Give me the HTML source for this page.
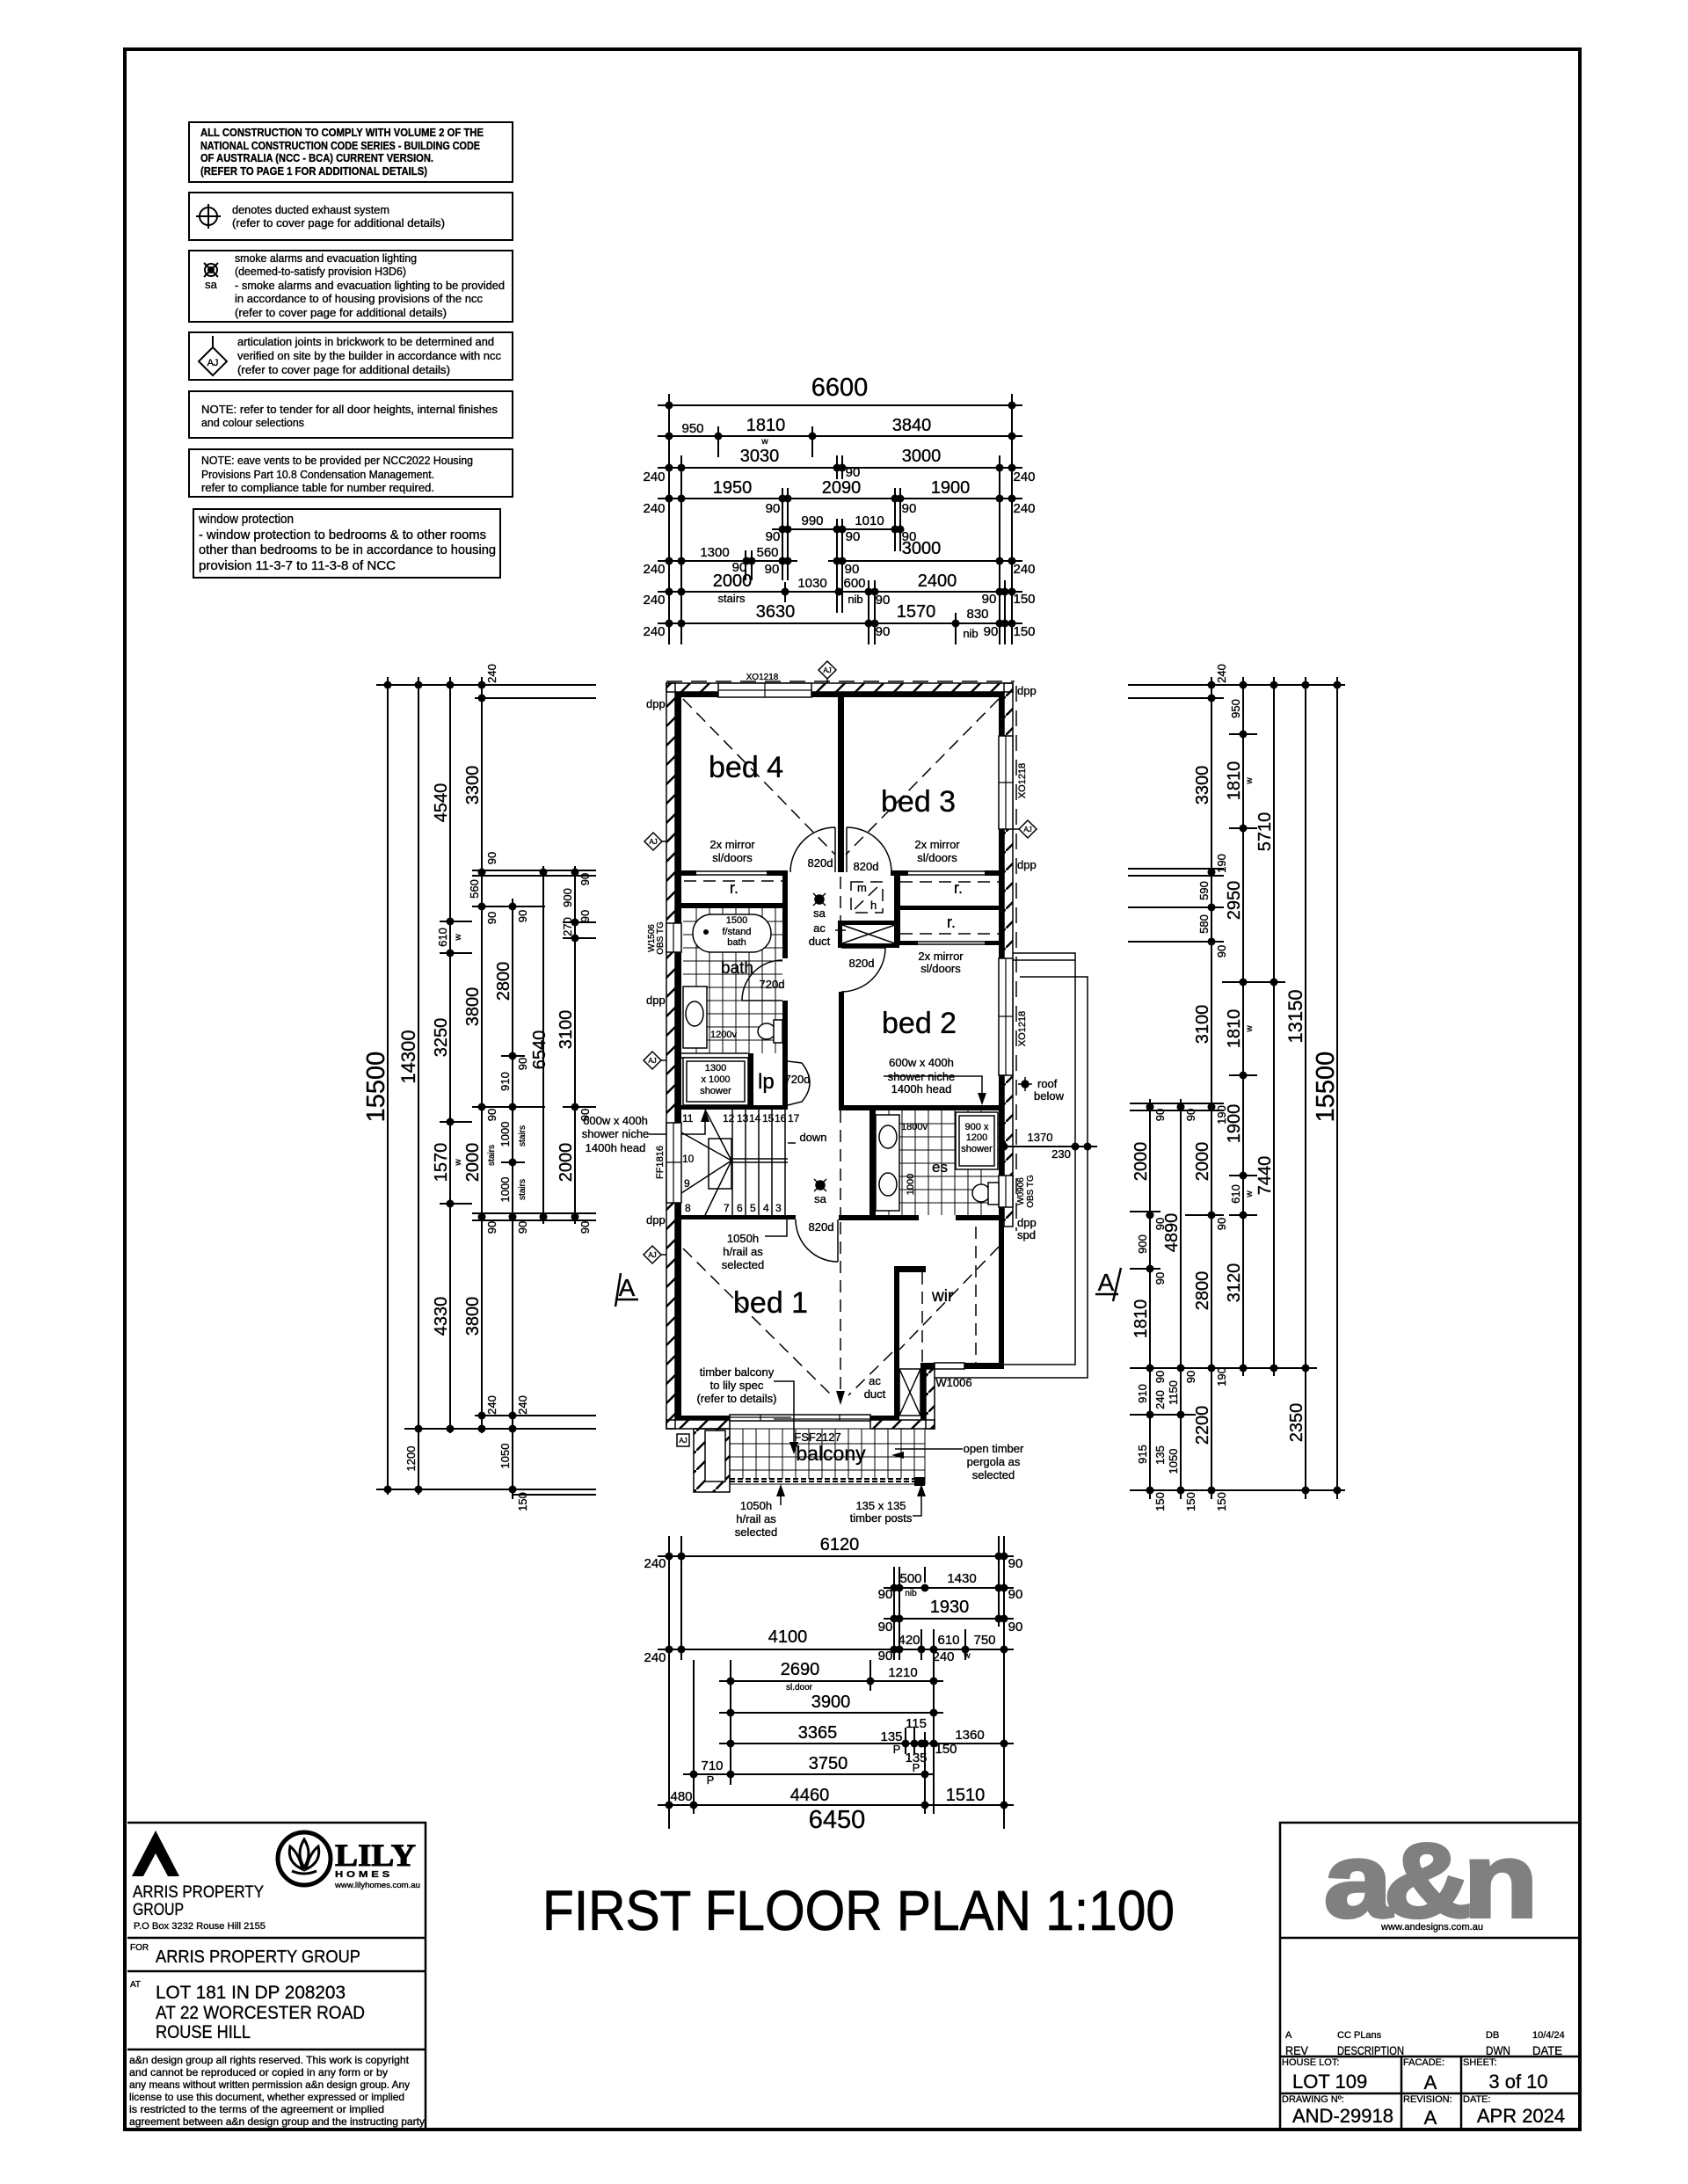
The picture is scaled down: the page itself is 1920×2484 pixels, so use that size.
<!DOCTYPE html>
<html><head><meta charset="utf-8">
<style>
html,body{margin:0;padding:0;background:#fff}
svg{display:block}
text{font-family:"Liberation Sans",sans-serif;fill:#000;stroke:#000;stroke-width:0.35px}
.xs{font-size:10px}.s{font-size:13px}.sm{font-size:15px}.m{font-size:20px}.l{font-size:29px}
.c{text-anchor:middle}.b{font-weight:bold}
.ttl{stroke-width:0.8px;stroke-linejoin:round}
</style></head><body>
<svg width="1920" height="2484" viewBox="0 0 1920 2484" xmlns="http://www.w3.org/2000/svg">
<defs>
<pattern id="hat" patternUnits="userSpaceOnUse" width="22" height="22"><path d="M-2,24 L24,-2" stroke="#000" stroke-width="2.5"/></pattern>
</defs>
<rect width="1920" height="2484" fill="#fff"/>
<rect x="142" y="56" width="1655" height="2366" fill="none" stroke="#000" stroke-width="4"/>

<g fill="none" stroke="#000" stroke-width="2">
<rect x="215" y="139" width="368" height="68"/>
<rect x="215" y="219" width="368" height="54"/>
<rect x="215" y="285" width="368" height="81"/>
<rect x="215" y="378" width="368" height="54"/>
<rect x="215" y="445" width="368" height="53"/>
<rect x="215" y="511" width="368" height="54"/>
<rect x="220" y="579" width="349" height="78"/>
</g>
<g class="b" style="font-size:12.5px">
<text x="228" y="155" textLength="322" lengthAdjust="spacingAndGlyphs">ALL CONSTRUCTION TO COMPLY WITH VOLUME 2 OF THE</text>
<text x="228" y="170" textLength="318" lengthAdjust="spacingAndGlyphs">NATIONAL CONSTRUCTION CODE SERIES - BUILDING CODE</text>
<text x="228" y="184" textLength="265" lengthAdjust="spacingAndGlyphs">OF AUSTRALIA (NCC - BCA) CURRENT VERSION.</text>
<text x="228" y="199" textLength="258" lengthAdjust="spacingAndGlyphs">(REFER TO PAGE 1 FOR ADDITIONAL DETAILS)</text>
</g>
<g style="font-size:12.5px">
<text x="264" y="243" textLength="179" lengthAdjust="spacingAndGlyphs">denotes ducted exhaust system</text>
<text x="264" y="258" textLength="242" lengthAdjust="spacingAndGlyphs">(refer to cover page for additional details)</text>
<text x="267" y="298" textLength="207" lengthAdjust="spacingAndGlyphs">smoke alarms and evacuation lighting</text>
<text x="267" y="313" textLength="195" lengthAdjust="spacingAndGlyphs">(deemed-to-satisfy provision H3D6)</text>
<text x="267" y="329" textLength="307" lengthAdjust="spacingAndGlyphs">- smoke alarms and evacuation lighting to be provided</text>
<text x="267" y="344" textLength="282" lengthAdjust="spacingAndGlyphs">in accordance to of housing provisions of the ncc</text>
<text x="267" y="360" textLength="241" lengthAdjust="spacingAndGlyphs">(refer to cover page for additional details)</text>
<text x="270" y="393" textLength="292" lengthAdjust="spacingAndGlyphs">articulation joints in brickwork to be determined and</text>
<text x="270" y="409" textLength="300" lengthAdjust="spacingAndGlyphs">verified on site by the builder in accordance with ncc</text>
<text x="270" y="425" textLength="242" lengthAdjust="spacingAndGlyphs">(refer to cover page for additional details)</text>
<text x="229" y="470" textLength="337" lengthAdjust="spacingAndGlyphs">NOTE: refer to tender for all door heights, internal finishes</text>
<text x="229" y="485" textLength="117" lengthAdjust="spacingAndGlyphs">and colour selections</text>
<text x="229" y="528" textLength="309" lengthAdjust="spacingAndGlyphs">NOTE: eave vents to be provided per NCC2022 Housing</text>
<text x="229" y="544" textLength="265" lengthAdjust="spacingAndGlyphs">Provisions Part 10.8 Condensation Management.</text>
<text x="229" y="559" textLength="265" lengthAdjust="spacingAndGlyphs">refer to compliance table for number required.</text>
</g>
<g style="font-size:14.5px">
<text x="226" y="595" textLength="108" lengthAdjust="spacingAndGlyphs">window protection</text>
<text x="226" y="613" textLength="327" lengthAdjust="spacingAndGlyphs">- window protection to bedrooms &amp; to other rooms</text>
<text x="226" y="630" textLength="338" lengthAdjust="spacingAndGlyphs">other than bedrooms to be in accordance to housing</text>
<text x="226" y="648" textLength="224" lengthAdjust="spacingAndGlyphs">provision 11-3-7 to 11-3-8 of NCC</text>
</g>
<g fill="none" stroke="#000" stroke-width="2">
<circle cx="237" cy="246" r="10"/><path d="M237 232V260 M223 246H251"/>
<circle cx="240" cy="307" r="7"/><path d="M232 299L248 315 M248 299L232 315"/>
<path d="M242 382V395 M242 395L258 411L242 427L226 411Z"/>
</g>
<circle cx="240" cy="307" r="4" fill="#000"/>
<text x="240" y="328" class="s c">sa</text>
<text x="242" y="416" class="c" style="font-size:11px">AJ</text>

<g stroke="#000" stroke-width="2" fill="none">
<path d="M748 461H1163 M748 496H1163 M748 532H1163 M748 567H1163 M878 602H1028 M748 638H907 M942 638H1163 M748 673H1163 M748 709H1163 M761 448V733 M1151 448V733 M817 485V520 M924 485V520 M775 518V733 M1137 518V733 M1143 660V733 M952 518V545 M958 518V545 M952 590V697 M958 590V697 M890 555V660 M896 555V660 M1018 555V627 M1024 555V627 M848 626V660 M855 626V660 M893 662V685 M988 660V733 M995 660V733 M1087 697V733"/>
</g>
<g fill="#000">
<circle cx="761" cy="461" r="4.5"/><circle cx="1151" cy="461" r="4.5"/>
<circle cx="761" cy="496" r="4.5"/><circle cx="817" cy="496" r="4.5"/><circle cx="924" cy="496" r="4.5"/><circle cx="1151" cy="496" r="4.5"/>
<circle cx="761" cy="532" r="4.5"/><circle cx="775" cy="532" r="4.5"/><circle cx="952" cy="532" r="4.5"/><circle cx="958" cy="532" r="4.5"/><circle cx="1137" cy="532" r="4.5"/><circle cx="1151" cy="532" r="4.5"/>
<circle cx="761" cy="567" r="4.5"/><circle cx="775" cy="567" r="4.5"/><circle cx="890" cy="567" r="4.5"/><circle cx="896" cy="567" r="4.5"/><circle cx="1018" cy="567" r="4.5"/><circle cx="1024" cy="567" r="4.5"/><circle cx="1137" cy="567" r="4.5"/><circle cx="1151" cy="567" r="4.5"/>
<circle cx="890" cy="602" r="4.5"/><circle cx="896" cy="602" r="4.5"/><circle cx="952" cy="602" r="4.5"/><circle cx="958" cy="602" r="4.5"/><circle cx="1018" cy="602" r="4.5"/><circle cx="1024" cy="602" r="4.5"/>
<circle cx="761" cy="638" r="4.5"/><circle cx="775" cy="638" r="4.5"/><circle cx="849" cy="638" r="4.5"/><circle cx="855" cy="638" r="4.5"/><circle cx="890" cy="638" r="4.5"/><circle cx="896" cy="638" r="4.5"/><circle cx="952" cy="638" r="4.5"/><circle cx="958" cy="638" r="4.5"/><circle cx="1137" cy="638" r="4.5"/><circle cx="1151" cy="638" r="4.5"/>
<circle cx="761" cy="673" r="4.5"/><circle cx="775" cy="673" r="4.5"/><circle cx="893" cy="673" r="4.5"/><circle cx="954" cy="673" r="4.5"/><circle cx="988" cy="673" r="4.5"/><circle cx="995" cy="673" r="4.5"/><circle cx="1137" cy="673" r="4.5"/><circle cx="1143" cy="673" r="4.5"/><circle cx="1151" cy="673" r="4.5"/>
<circle cx="761" cy="709" r="4.5"/><circle cx="775" cy="709" r="4.5"/><circle cx="988" cy="709" r="4.5"/><circle cx="995" cy="709" r="4.5"/><circle cx="1087" cy="709" r="4.5"/><circle cx="1137" cy="709" r="4.5"/><circle cx="1143" cy="709" r="4.5"/><circle cx="1151" cy="709" r="4.5"/>
</g>
<g class="c">
<text x="955" y="450" class="l">6600</text>
<text x="788" y="492" class="sm">950</text>
<text x="871" y="490" class="m">1810</text><text x="870" y="505" class="xs">w</text>
<text x="1037" y="490" class="m">3840</text>
<text x="864" y="525" class="m">3030</text><text x="1048" y="525" class="m">3000</text>
<text x="744" y="547" class="sm">240</text><text x="1165" y="547" class="sm">240</text><text x="970" y="542" class="sm">90</text>
<text x="833" y="561" class="m">1950</text><text x="957" y="561" class="m">2090</text><text x="1081" y="561" class="m">1900</text>
<text x="744" y="583" class="sm">240</text><text x="1165" y="583" class="sm">240</text><text x="879" y="583" class="sm">90</text><text x="1034" y="583" class="sm">90</text>
<text x="924" y="597" class="sm">990</text><text x="989" y="597" class="sm">1010</text>
<text x="879" y="615" class="sm">90</text><text x="970" y="615" class="sm">90</text><text x="1034" y="615" class="sm">90</text>
<text x="1048" y="630" class="m">3000</text>
<text x="813" y="633" class="sm">1300</text><text x="873" y="633" class="sm">560</text>
<text x="744" y="652" class="sm">240</text><text x="841" y="650" class="sm">90</text><text x="878" y="652" class="sm">90</text><text x="969" y="652" class="sm">90</text><text x="1165" y="652" class="sm">240</text>
<text x="833" y="667" class="m">2000</text><text x="1066" y="667" class="m">2400</text>
<text x="832" y="685" class="s">stairs</text><text x="924" y="668" class="sm">1030</text><text x="972" y="668" class="sm">600</text>
<text x="744" y="687" class="sm">240</text><text x="973" y="686" class="s">nib</text><text x="1004" y="687" class="sm">90</text><text x="1125" y="686" class="sm">90</text><text x="1165" y="686" class="sm">150</text>
<text x="882" y="702" class="m">3630</text><text x="1042" y="702" class="m">1570</text><text x="1112" y="703" class="sm">830</text>
<text x="744" y="723" class="sm">240</text><text x="1004" y="723" class="sm">90</text><text x="1104" y="725" class="s">nib</text><text x="1127" y="723" class="sm">90</text><text x="1165" y="723" class="sm">150</text>
</g>

<g stroke="#000" stroke-width="2" fill="none">
<path d="M441 770V1700 M476 770V1700 M512 770V1630 M548 770V1630 M583 1022V1705 M618 985V1392 M654 985V1392 M428 779H678 M540 794H678 M537 990H678 M537 996H678 M537 1031H620 M500 1048H537 M500 1084H537 M640 1049H678 M640 1067H678 M570 1201H597 M537 1259H620 M640 1259H678 M500 1276H537 M500 1369H537 M570 1322H597 M537 1380H678 M537 1388H678 M540 1610H678 M460 1625H678 M428 1694H678 M583 1700H678"/>
</g>
<g fill="#000">
<circle cx="441" cy="779" r="4.5"/><circle cx="441" cy="1694" r="4.5"/>
<circle cx="476" cy="779" r="4.5"/><circle cx="476" cy="1625" r="4.5"/><circle cx="476" cy="1694" r="4.5"/>
<circle cx="512" cy="779" r="4.5"/><circle cx="512" cy="1048" r="4.5"/><circle cx="512" cy="1084" r="4.5"/><circle cx="512" cy="1276" r="4.5"/><circle cx="512" cy="1369" r="4.5"/><circle cx="512" cy="1625" r="4.5"/>
<circle cx="548" cy="779" r="4.5"/><circle cx="548" cy="794" r="4.5"/><circle cx="548" cy="992" r="4.5"/><circle cx="548" cy="1031" r="4.5"/><circle cx="548" cy="1259" r="4.5"/><circle cx="548" cy="1384" r="4.5"/><circle cx="548" cy="1610" r="4.5"/><circle cx="548" cy="1625" r="4.5"/>
<circle cx="583" cy="1031" r="4.5"/><circle cx="583" cy="1201" r="4.5"/><circle cx="583" cy="1259" r="4.5"/><circle cx="583" cy="1322" r="4.5"/><circle cx="583" cy="1384" r="4.5"/><circle cx="583" cy="1610" r="4.5"/><circle cx="583" cy="1625" r="4.5"/><circle cx="583" cy="1694" r="4.5"/>
<circle cx="618" cy="992" r="4.5"/><circle cx="618" cy="1384" r="4.5"/>
<circle cx="654" cy="992" r="4.5"/><circle cx="654" cy="1049" r="4.5"/><circle cx="654" cy="1067" r="4.5"/><circle cx="654" cy="1259" r="4.5"/><circle cx="654" cy="1384" r="4.5"/>
</g>
<g class="c">
<text transform="translate(437 1236) rotate(-90)" class="l">15500</text>
<text transform="translate(472 1202) rotate(-90)" style="font-size:22px">14300</text>
<text transform="translate(472 1659) rotate(-90)" class="s">1200</text>
<text transform="translate(508 913) rotate(-90)" class="m">4540</text>
<text transform="translate(508 1066) rotate(-90)" class="s">610</text><text transform="translate(524 1066) rotate(-90)" class="xs">w</text>
<text transform="translate(508 1180) rotate(-90)" class="m">3250</text>
<text transform="translate(508 1322) rotate(-90)" class="m">1570</text><text transform="translate(524 1322) rotate(-90)" class="xs">w</text>
<text transform="translate(508 1497) rotate(-90)" class="m">4330</text>
<text transform="translate(564 766) rotate(-90)" class="s">240</text>
<text transform="translate(544 893) rotate(-90)" class="m">3300</text>
<text transform="translate(544 1011) rotate(-90)" class="s">560</text>
<text transform="translate(564 976) rotate(-90)" class="s">90</text><text transform="translate(564 1044) rotate(-90)" class="s">90</text>
<text transform="translate(544 1145) rotate(-90)" class="m">3800</text>
<text transform="translate(544 1322) rotate(-90)" class="m">2000</text>
<text transform="translate(562 1314) rotate(-90)" class="xs">stairs</text>
<text transform="translate(564 1268) rotate(-90)" class="s">90</text><text transform="translate(564 1396) rotate(-90)" class="s">90</text>
<text transform="translate(544 1497) rotate(-90)" class="m">3800</text>
<text transform="translate(564 1598) rotate(-90)" class="s">240</text>
<text transform="translate(579 1116) rotate(-90)" class="m">2800</text>
<text transform="translate(579 1230) rotate(-90)" class="s">910</text>
<text transform="translate(620 1194) rotate(-90)" class="m">6540</text>
<text transform="translate(599 1042) rotate(-90)" class="s">90</text><text transform="translate(599 1210) rotate(-90)" class="s">90</text>
<text transform="translate(579 1290) rotate(-90)" class="s">1000</text><text transform="translate(597 1292) rotate(-90)" class="xs">stairs</text>
<text transform="translate(579 1353) rotate(-90)" class="s">1000</text><text transform="translate(597 1353) rotate(-90)" class="xs">stairs</text>
<text transform="translate(599 1396) rotate(-90)" class="s">90</text>
<text transform="translate(599 1598) rotate(-90)" class="s">240</text>
<text transform="translate(579 1656) rotate(-90)" class="s">1050</text>
<text transform="translate(599 1708) rotate(-90)" class="s">150</text>
<text transform="translate(650 1021) rotate(-90)" class="s">900</text>
<text transform="translate(650 1054) rotate(-90)" class="s">270</text>
<text transform="translate(670 1000) rotate(-90)" class="s">90</text><text transform="translate(670 1042) rotate(-90)" class="s">90</text>
<text transform="translate(650 1171) rotate(-90)" class="m">3100</text>
<text transform="translate(650 1322) rotate(-90)" class="m">2000</text>
<text transform="translate(670 1268) rotate(-90)" class="s">90</text><text transform="translate(670 1396) rotate(-90)" class="s">90</text>
</g>
<g stroke="#000" stroke-width="2.5" fill="none"><path d="M700 1478H726 M706 1448L700 1486"/></g>
<text x="713" y="1474" class="c" style="font-size:28px">A</text>
<g class="c s">
<text x="700" y="1279">600w x 400h</text><text x="700" y="1294">shower niche</text><text x="700" y="1310">1400h head</text>
</g>
<path d="M738 1290H802V1266" stroke="#000" stroke-width="1.5" fill="none"/>
<path d="M797 1276L802 1262L807 1276Z" fill="#000"/>

<g stroke="#000" stroke-width="2" fill="none">
<path d="M1308 1250V1705 M1343 1250V1705 M1378 770V1705 M1414 770V1565 M1449 770V1565 M1485 770V1705 M1521 770V1705 M1283 779H1530 M1283 794H1392 M1283 988H1392 M1283 996H1392 M1283 1032H1392 M1283 1071H1392 M1398 835H1430 M1398 942H1430 M1390 1117H1462 M1398 1223H1430 M1285 1255H1392 M1285 1263H1392 M1398 1337H1430 M1285 1378H1320 M1348 1382H1392 M1398 1382H1430 M1285 1443H1320 M1285 1556H1498 M1285 1609H1360 M1285 1695H1530"/>
</g>
<g fill="#000">
<circle cx="1308" cy="1259" r="4.5"/><circle cx="1308" cy="1382" r="4.5"/><circle cx="1308" cy="1443" r="4.5"/><circle cx="1308" cy="1556" r="4.5"/><circle cx="1308" cy="1609" r="4.5"/><circle cx="1308" cy="1695" r="4.5"/>
<circle cx="1343" cy="1259" r="4.5"/><circle cx="1343" cy="1556" r="4.5"/><circle cx="1343" cy="1609" r="4.5"/><circle cx="1343" cy="1695" r="4.5"/>
<circle cx="1378" cy="779" r="4.5"/><circle cx="1378" cy="794" r="4.5"/><circle cx="1378" cy="992" r="4.5"/><circle cx="1378" cy="1032" r="4.5"/><circle cx="1378" cy="1071" r="4.5"/><circle cx="1378" cy="1259" r="4.5"/><circle cx="1378" cy="1382" r="4.5"/><circle cx="1378" cy="1556" r="4.5"/><circle cx="1378" cy="1695" r="4.5"/>
<circle cx="1414" cy="779" r="4.5"/><circle cx="1414" cy="835" r="4.5"/><circle cx="1414" cy="942" r="4.5"/><circle cx="1414" cy="1117" r="4.5"/><circle cx="1414" cy="1223" r="4.5"/><circle cx="1414" cy="1337" r="4.5"/><circle cx="1414" cy="1382" r="4.5"/><circle cx="1414" cy="1556" r="4.5"/>
<circle cx="1449" cy="779" r="4.5"/><circle cx="1449" cy="1117" r="4.5"/><circle cx="1449" cy="1556" r="4.5"/>
<circle cx="1485" cy="779" r="4.5"/><circle cx="1485" cy="1556" r="4.5"/><circle cx="1485" cy="1695" r="4.5"/>
<circle cx="1521" cy="779" r="4.5"/><circle cx="1521" cy="1695" r="4.5"/>
</g>
<g class="c">
<text transform="translate(1304 1321) rotate(-90)" class="m">2000</text>
<text transform="translate(1304 1415) rotate(-90)" class="s">900</text>
<text transform="translate(1304 1500) rotate(-90)" class="m">1810</text>
<text transform="translate(1304 1585) rotate(-90)" class="s">910</text>
<text transform="translate(1304 1654) rotate(-90)" class="s">915</text>
<text transform="translate(1324 1268) rotate(-90)" class="s">90</text><text transform="translate(1324 1392) rotate(-90)" class="s">90</text>
<text transform="translate(1324 1454) rotate(-90)" class="s">90</text><text transform="translate(1324 1566) rotate(-90)" class="s">90</text>
<text transform="translate(1324 1592) rotate(-90)" class="s">240</text><text transform="translate(1324 1655) rotate(-90)" class="s">135</text>
<text transform="translate(1324 1708) rotate(-90)" class="s">150</text>
<text transform="translate(1339 1402) rotate(-90)" class="m">4890</text>
<text transform="translate(1339 1584) rotate(-90)" class="s">1150</text>
<text transform="translate(1339 1662) rotate(-90)" class="s">1050</text>
<text transform="translate(1359 1708) rotate(-90)" class="s">150</text>
<text transform="translate(1359 1268) rotate(-90)" class="s">90</text><text transform="translate(1359 1566) rotate(-90)" class="s">90</text>
<text transform="translate(1394 766) rotate(-90)" class="s">240</text>
<text transform="translate(1374 893) rotate(-90)" class="m">3300</text>
<text transform="translate(1374 1013) rotate(-90)" class="s">590</text>
<text transform="translate(1374 1051) rotate(-90)" class="s">580</text>
<text transform="translate(1394 982) rotate(-90)" class="s">190</text><text transform="translate(1394 1082) rotate(-90)" class="s">90</text>
<text transform="translate(1374 1165) rotate(-90)" class="m">3100</text>
<text transform="translate(1374 1321) rotate(-90)" class="m">2000</text>
<text transform="translate(1394 1268) rotate(-90)" class="s">190</text><text transform="translate(1394 1392) rotate(-90)" class="s">90</text>
<text transform="translate(1374 1468) rotate(-90)" class="m">2800</text>
<text transform="translate(1394 1566) rotate(-90)" class="s">190</text>
<text transform="translate(1374 1621) rotate(-90)" class="m">2200</text>
<text transform="translate(1394 1708) rotate(-90)" class="s">150</text>
<text transform="translate(1410 806) rotate(-90)" class="s">950</text>
<text transform="translate(1410 888) rotate(-90)" class="m">1810</text><text transform="translate(1424 888) rotate(-90)" class="xs">w</text>
<text transform="translate(1410 1024) rotate(-90)" class="m">2950</text>
<text transform="translate(1410 1170) rotate(-90)" class="m">1810</text><text transform="translate(1424 1170) rotate(-90)" class="xs">w</text>
<text transform="translate(1410 1278) rotate(-90)" class="m">1900</text>
<text transform="translate(1410 1358) rotate(-90)" class="s">610</text><text transform="translate(1424 1358) rotate(-90)" class="xs">w</text>
<text transform="translate(1410 1459) rotate(-90)" class="m">3120</text>
<text transform="translate(1445 946) rotate(-90)" class="m">5710</text>
<text transform="translate(1445 1337) rotate(-90)" class="m">7440</text>
<text transform="translate(1481 1156) rotate(-90)" style="font-size:22px">13150</text>
<text transform="translate(1481 1618) rotate(-90)" class="m">2350</text>
<text transform="translate(1517 1236) rotate(-90)" class="l">15500</text>
</g>
<g stroke="#000" stroke-width="2.5" fill="none"><path d="M1246 1472H1272 M1275 1442L1266 1480"/></g>
<text x="1258" y="1468" class="c" style="font-size:28px">A</text>

<g stroke="#000" stroke-width="1.5" fill="none">
<path d="M1152 1084H1223V1552H1140 M1152 1092H1223"/>
<path d="M1160 1111H1237V1567H1063"/>
<path d="M1156 780V1400" stroke-dasharray="18 10"/>
<path d="M758 775H1154" stroke-dasharray="18 10"/>
</g>
<text x="1180" y="1237" class="s">roof</text><text x="1176" y="1251" class="s">below</text>
<g stroke="#000" stroke-width="1.5"><circle cx="1166" cy="1233" r="4" fill="#000"/><path d="M1158 1233H1174 M1166 1225V1241"/></g>
<path d="M1142 1304H1248" stroke="#000" stroke-width="2"/>
<circle cx="1142" cy="1304" r="4.5"/><circle cx="1223" cy="1304" r="4.5"/><circle cx="1237" cy="1304" r="4.5"/>
<text x="1183" y="1298" class="s c">1370</text><text x="1207" y="1317" class="s c">230</text>

<g fill="url(#hat)" stroke="#000" stroke-width="1.5">
<rect x="758" y="777" width="10" height="848"/>
<rect x="758" y="777" width="394" height="10"/>
<rect x="1142" y="777" width="10" height="618"/>
<rect x="758" y="1615" width="72" height="10"/>
<rect x="990" y="1615" width="73" height="10"/>
<rect x="1053" y="1557" width="10" height="68"/>
<rect x="789" y="1625" width="41" height="72"/>
</g>
<rect x="802" y="1627" width="23" height="58" fill="#fff" stroke="#000" stroke-width="1.5"/>
<g fill="#000">
<rect x="768" y="787" width="7" height="828"/>
<rect x="768" y="787" width="374" height="6"/>
<rect x="1136" y="787" width="6" height="770"/>
<rect x="768" y="1610" width="62" height="5"/>
<rect x="990" y="1610" width="33" height="5"/>
<rect x="1047" y="1550" width="6" height="65"/>
<rect x="1053" y="1550" width="89" height="7"/>
<rect x="953" y="793" width="7" height="199"/>
<rect x="775" y="990" width="17" height="6"/><rect x="872" y="990" width="24" height="6"/>
<rect x="775" y="1027" width="121" height="6"/>
<rect x="890" y="990" width="6" height="100"/><rect x="890" y="1138" width="6" height="124"/>
<rect x="1017" y="990" width="7" height="85"/>
<rect x="1013" y="990" width="20" height="6"/><rect x="1120" y="990" width="16" height="6"/>
<rect x="1024" y="1030" width="112" height="5"/>
<rect x="1024" y="1070" width="20" height="5"/><rect x="1120" y="1070" width="16" height="5"/>
<rect x="954" y="1128" width="6" height="134"/>
<rect x="954" y="1257" width="182" height="6"/>
<rect x="989" y="1263" width="7" height="120"/>
<rect x="954" y="1382" width="91" height="6"/><rect x="1087" y="1382" width="55" height="6"/>
<rect x="851" y="1198" width="6" height="64"/>
<rect x="775" y="1257" width="121" height="5"/>
<rect x="775" y="1382" width="130" height="5"/>
<rect x="1017" y="1440" width="6" height="175"/><rect x="1017" y="1440" width="36" height="7"/>
<rect x="1040" y="1680" width="12" height="10"/>
</g>
<g stroke="#000" stroke-width="1.5" fill="none">
<path d="M792 991H872 M792 995H872 M1033 991H1120 M1033 995H1120 M1044 1071H1120 M1044 1074H1120"/>
<rect x="955.5" y="1049.5" width="65" height="26" stroke-width="5"/>
<path d="M958 1052L1018 1073 M1018 1052L958 1073"/>
<rect x="1023" y="1557" width="24" height="53"/>
<path d="M1023 1557L1047 1610 M1047 1557L1023 1610"/>
<path d="M775 1198H851 M775 1203H851"/>
</g>
<g fill="#fff" stroke="#000" stroke-width="1.5">
<rect x="817" y="777" width="106" height="16"/>
<rect x="1136" y="837" width="16" height="106"/>
<rect x="1136" y="1090" width="16" height="133"/>
<rect x="758" y="1050" width="17" height="33"/>
<rect x="758" y="1277" width="17" height="91"/>
<rect x="1136" y="1337" width="16" height="36"/>
<rect x="1063" y="1550" width="34" height="7"/>
<rect x="830" y="1609" width="160" height="7"/>
</g>
<g stroke="#000" stroke-width="1.2" fill="none">
<path d="M817 785H923 M870 777V793 M1144 837V943 M1136 890H1152 M1144 1090V1223 M1136 1156H1152 M766 1050V1083 M766 1277V1368 M758 1322H775 M1144 1337V1373 M830 1612H900 M880 1614H990 M865 1609V1616 M955 1609V1616"/>
</g>
<g stroke="#000" stroke-width="1.5" fill="none">
<path d="M950 941V992 M950 941A51 51 0 0 0 899 992"/>
<path d="M963 941V992 M963 941A51 51 0 0 1 1014 992"/>
<path d="M890 1092A46 46 0 0 0 844 1138 M890 1138H844"/>
<path d="M896 1207L912 1209Q930 1232 912 1253L896 1257"/>
<path d="M957 1078H1007 M1007 1078A50 50 0 0 1 957 1128"/>
<path d="M953 1387V1435 M905 1387A48 48 0 0 0 953 1435"/>
</g>
<g stroke="#000" stroke-width="1.5" fill="none" stroke-dasharray="14 8">
<path d="M777 795L950 972 M1136 795L962 972"/>
<path d="M777 1420L947 1588 M1015 1538L965 1587 M1136 1418L1023 1535"/>
<path d="M956 997V1047 M956 1263V1382 M956 1390V1595"/>
<path d="M1049 1447V1550 M1110 1395V1550"/>
<path d="M778 1002H890 M1024 1003H1136 M1024 1062H1136"/>
<rect x="968" y="1003" width="36" height="35"/>
<path d="M972 1034L1000 1007"/>
</g>
<path d="M951 1582L956 1598L961 1582Z" fill="#000"/>
<text x="806" y="884" style="font-size:34px">bed 4</text>
<text x="1002" y="923" style="font-size:34px">bed 3</text>
<text x="1003" y="1175" style="font-size:34px">bed 2</text>
<text x="834" y="1493" style="font-size:34px">bed 1</text>
<text x="820" y="1107" style="font-size:19px">bath</text>
<text x="1060" y="1480" style="font-size:19px">wir</text>
<text x="945" y="1661" class="c" style="font-size:23px">balcony</text>
<text x="862" y="1238" style="font-size:24px">lp</text>
<text x="1060" y="1333" style="font-size:17px">es</text>
<g class="c s">
<text x="833" y="965">2x mirror</text><text x="833" y="980">sl/doors</text>
<text x="1066" y="965">2x mirror</text><text x="1066" y="980">sl/doors</text>
<text x="1070" y="1092">2x mirror</text><text x="1070" y="1106">sl/doors</text>
<text x="933" y="986">820d</text><text x="985" y="990">820d</text>
<text x="980" y="1100">820d</text>
<text x="934" y="1400">820d</text>
<text x="878" y="1124">720d</text>
<text x="907" y="1232">720d</text>
<text x="932" y="1060">ac</text><text x="932" y="1075">duct</text>
<text x="932" y="1043">sa</text><text x="933" y="1368">sa</text>
<text x="1048" y="1213">600w x 400h</text><text x="1048" y="1229">shower niche</text><text x="1048" y="1243">1400h head</text>
<text x="845" y="1413">1050h</text><text x="845" y="1428">h/rail as</text><text x="845" y="1443">selected</text>
<text x="838" y="1565">timber balcony</text><text x="838" y="1580">to lily spec</text><text x="838" y="1595">(refer to details)</text>
<text x="995" y="1575">ac</text><text x="995" y="1590">duct</text>
<text x="1130" y="1652">open timber</text><text x="1130" y="1667">pergola as</text><text x="1130" y="1682">selected</text>
<text x="860" y="1717">1050h</text><text x="860" y="1732">h/rail as</text><text x="860" y="1747">selected</text>
<text x="1002" y="1717">135 x 135</text><text x="1002" y="1731">timber posts</text>
<text x="925" y="1298">down</text>
</g>
<text x="830" y="1016" style="font-size:18px">r.</text>
<text x="1085" y="1016" style="font-size:18px">r.</text>
<text x="1077" y="1055" style="font-size:18px">r.</text>
<text x="1085" y="1577" class="c s">W1006</text>
<text x="930" y="1639" class="c s">FSF2127</text>
<text x="867" y="773" class="c xs">XO1218</text>
<g stroke="#000" stroke-width="1.5"><circle cx="932" cy="1023" r="5" fill="#000"/><path d="M925 1016L939 1030 M939 1016L925 1030"/>
<circle cx="933" cy="1348" r="5" fill="#000"/><path d="M926 1341L940 1355 M940 1341L926 1355"/></g>
<text x="975" y="1014" class="s">m</text><text x="990" y="1034" class="s">h</text>
<g stroke="#000" stroke-width="1" fill="none">
<path d="M792 1033V1198 M807 1033V1198 M822 1033V1198 M837 1033V1198 M852 1033V1198 M867 1033V1198 M882 1033V1198 M777 1048H890 M777 1063H890 M777 1078H890 M777 1093H890 M777 1108H890 M777 1123H890 M777 1138H890 M777 1153H890 M777 1168H890 M777 1183H890"/>
<path d="M1011 1263V1382 M1026 1263V1382 M1041 1263V1382 M1056 1263V1382 M1071 1263V1382 M1086 1263V1382 M1101 1263V1382 M1116 1263V1382 M996 1278H1136 M996 1293H1136 M996 1308H1136 M996 1323H1136 M996 1338H1136 M996 1353H1136 M996 1368H1136"/>
</g>
<g fill="#fff" stroke="#000" stroke-width="1.5">
<rect x="788" y="1040" width="89" height="43" rx="21"/>
<rect x="777" y="1122" width="27" height="70"/>
<ellipse cx="790" cy="1153" rx="10" ry="14"/>
<ellipse cx="872" cy="1173" rx="10" ry="9"/>
<rect x="880" y="1160" width="10" height="26"/>
<rect x="777" y="1203" width="74" height="54"/>
<rect x="781" y="1207" width="66" height="46"/>
<rect x="996" y="1268" width="27" height="109"/>
<ellipse cx="1010" cy="1293" rx="10" ry="13"/>
<ellipse cx="1010" cy="1347" rx="10" ry="13"/>
<rect x="1087" y="1265" width="48" height="65"/>
<rect x="1091" y="1269" width="40" height="57"/>
<ellipse cx="1116" cy="1357" rx="10" ry="10"/>
<rect x="1124" y="1345" width="12" height="25"/>
</g>
<circle cx="803" cy="1060" r="3" fill="#000"/>
<g class="c" style="font-size:11px">
<text x="838" y="1050">1500</text><text x="838" y="1063">f/stand</text><text x="838" y="1075">bath</text>
<text x="814" y="1218">1300</text><text x="814" y="1231">x 1000</text><text x="814" y="1244">shower</text>
<text x="1111" y="1285">900 x</text><text x="1111" y="1297">1200</text><text x="1111" y="1310">shower</text>
<text x="823" y="1180">1200v</text><text x="1040" y="1285">1800v</text>
</g>
<text transform="translate(1039 1347) rotate(-90)" class="c" style="font-size:11px">1000</text>
<g stroke="#000" stroke-width="1.5" fill="none">
<path d="M833 1262V1382 M848 1262V1382 M863 1262V1382 M878 1262V1382 M893 1262V1382"/>
<path d="M832 1318H896 M832 1322H896"/>
<rect x="806" y="1295" width="26" height="57"/>
<path d="M832 1320L802 1262 M832 1320L775 1288 M832 1320L775 1357 M832 1320L802 1382 M896 1300H905"/>
</g>
<g style="font-size:12px">
<text x="776" y="1276">11</text><text x="822" y="1276">12</text><text x="838" y="1276">13</text><text x="852" y="1276">14</text><text x="867" y="1276">15</text><text x="881" y="1276">16</text><text x="896" y="1276">17</text>
<text x="776" y="1322">10</text><text x="778" y="1350">9</text><text x="779" y="1378">8</text>
<text x="823" y="1378">7</text><text x="838" y="1378">6</text><text x="853" y="1378">5</text><text x="868" y="1378">4</text><text x="882" y="1378">3</text>
</g>
<g stroke="#000" stroke-width="1" fill="none">
<rect x="830" y="1625" width="222" height="63"/>
<path d="M845 1625V1682 M860 1625V1682 M875 1625V1682 M890 1625V1682 M905 1625V1682 M920 1625V1682 M935 1625V1682 M950 1625V1682 M965 1625V1682 M980 1625V1682 M995 1625V1682 M1010 1625V1682 M1025 1625V1682 M1040 1625V1682 M830 1642H1052 M830 1657H1052 M830 1672H1052"/>
<path d="M830 1682H1052 M830 1685H1052" stroke-width="2" stroke-dasharray="6 3"/>
</g>
<g stroke="#000" stroke-width="1.5" fill="none">
<path d="M870 1406H895V1387 M880 1571H903V1650 M1038 1724H1048V1692 M888 1712V1692 M1095 1648H1018 M962 1058H950 M1005 1224H1117V1255"/>
</g>
<g fill="#000">
<path d="M898 1640L903 1654L908 1640Z"/><path d="M1043 1702L1048 1688L1053 1702Z"/><path d="M883 1702L888 1688L893 1702Z"/><path d="M1028 1651L1014 1655L1028 1659Z"/><path d="M1112 1243L1117 1257L1122 1243Z"/>
</g>
<g class="s">
<text x="735" y="805">dpp</text><text x="1157" y="790">dpp</text><text x="1157" y="988">dpp</text>
<text x="735" y="1142">dpp</text><text x="735" y="1392">dpp</text>
<text x="1157" y="1395">dpp</text><text x="1157" y="1409">spd</text>
</g>
<g class="c xs">
<text transform="translate(744 1067) rotate(-90)">W1506</text><text transform="translate(754 1067) rotate(-90)">OBS TG</text>
<text transform="translate(754 1322) rotate(-90)" style="font-size:11px">FF1816</text>
<text transform="translate(1166 888) rotate(-90)" style="font-size:11px">XO1218</text>
<text transform="translate(1166 1170) rotate(-90)" style="font-size:11px">XO1218</text>
<text transform="translate(1164 1355) rotate(-90)">W0906</text><text transform="translate(1175 1355) rotate(-90)">OBS TG</text>
</g>
<g fill="#fff" stroke="#000" stroke-width="1.5">
<path d="M941 752L951 762L941 772L931 762Z"/>
<path d="M743 947L753 957L743 967L733 957Z"/>
<path d="M1169 933L1179 943L1169 953L1159 943Z"/>
<path d="M742 1196L752 1206L742 1216L732 1206Z"/>
<path d="M742 1417L752 1427L742 1437L732 1427Z"/>
<rect x="770" y="1631" width="14" height="14"/>
</g>
<g stroke="#000" stroke-width="1.5"><path d="M941 772V777 M753 957H758 M1152 943H1159 M752 1206H758 M752 1427H758"/></g>
<g class="c" style="font-size:8px">
<text x="941" y="765">AJ</text><text x="743" y="960">AJ</text><text x="1169" y="946">AJ</text><text x="742" y="1209">AJ</text><text x="742" y="1430">AJ</text><text x="777" y="1641">AJ</text>
</g>

<g stroke="#000" stroke-width="2" fill="none">
<path d="M748 1770H1153 M1005 1806H1153 M1005 1841H1153 M748 1876H1153 M818 1912H1073 M818 1948H1073 M818 1983H1153 M777 2018H1063 M748 2053H1153 M761 1747V2080 M775 1747V1888 M789 1888V2063 M831 1888V2030 M990 1888V1923 M1017 1782V1888 M1023 1782V1888 M1048 1853V1888 M1062 1853V2063 M1052 1782V1800 M1052 1970V2063 M1098 1853V1888 M1136 1747V1850 M1142 1747V2080 M1030 1965V1995 M1040 1965V1995"/>
</g>
<g fill="#000">
<circle cx="761" cy="1770" r="4.5"/><circle cx="775" cy="1770" r="4.5"/><circle cx="1136" cy="1770" r="4.5"/><circle cx="1142" cy="1770" r="4.5"/>
<circle cx="1017" cy="1806" r="4.5"/><circle cx="1023" cy="1806" r="4.5"/><circle cx="1052" cy="1806" r="4.5"/><circle cx="1136" cy="1806" r="4.5"/><circle cx="1142" cy="1806" r="4.5"/>
<circle cx="1017" cy="1841" r="4.5"/><circle cx="1023" cy="1841" r="4.5"/><circle cx="1136" cy="1841" r="4.5"/><circle cx="1142" cy="1841" r="4.5"/>
<circle cx="761" cy="1876" r="4.5"/><circle cx="775" cy="1876" r="4.5"/><circle cx="1017" cy="1876" r="4.5"/><circle cx="1023" cy="1876" r="4.5"/><circle cx="1048" cy="1876" r="4.5"/><circle cx="1062" cy="1876" r="4.5"/><circle cx="1098" cy="1876" r="4.5"/><circle cx="1142" cy="1876" r="4.5"/>
<circle cx="831" cy="1912" r="4.5"/><circle cx="990" cy="1912" r="4.5"/><circle cx="1062" cy="1912" r="4.5"/>
<circle cx="831" cy="1948" r="4.5"/><circle cx="1062" cy="1948" r="4.5"/>
<circle cx="831" cy="1983" r="4.5"/><circle cx="1030" cy="1983" r="4.5"/><circle cx="1040" cy="1983" r="4.5"/><circle cx="1048" cy="1983" r="4.5"/><circle cx="1052" cy="1983" r="4.5"/><circle cx="1062" cy="1983" r="4.5"/><circle cx="1142" cy="1983" r="4.5"/>
<circle cx="789" cy="2018" r="4.5"/><circle cx="831" cy="2018" r="4.5"/><circle cx="1052" cy="2018" r="4.5"/>
<circle cx="761" cy="2053" r="4.5"/><circle cx="789" cy="2053" r="4.5"/><circle cx="1052" cy="2053" r="4.5"/><circle cx="1142" cy="2053" r="4.5"/>
</g>
<g class="c">
<text x="955" y="1763" class="m">6120</text>
<text x="745" y="1783" class="sm">240</text><text x="1155" y="1783" class="sm">90</text>
<text x="1036" y="1800" class="sm">500</text><text x="1036" y="1815" class="xs">nib</text><text x="1094" y="1800" class="sm">1430</text>
<text x="1007" y="1818" class="sm">90</text><text x="1155" y="1818" class="sm">90</text>
<text x="1080" y="1834" class="m">1930</text>
<text x="1007" y="1855" class="sm">90</text><text x="1155" y="1855" class="sm">90</text>
<text x="896" y="1868" class="m">4100</text>
<text x="1034" y="1870" class="sm">420</text><text x="1079" y="1870" class="sm">610</text><text x="1120" y="1870" class="sm">750</text>
<text x="745" y="1890" class="sm">240</text><text x="1007" y="1888" class="sm">90</text><text x="1073" y="1889" class="sm">240</text><text x="1100" y="1886" class="xs">w</text>
<text x="910" y="1905" class="m">2690</text><text x="909" y="1922" class="xs">sl.door</text><text x="1027" y="1907" class="sm">1210</text>
<text x="945" y="1942" class="m">3900</text>
<text x="930" y="1977" class="m">3365</text>
<text x="1014" y="1980" class="sm">135</text><text x="1042" y="1965" class="sm">115</text><text x="1103" y="1978" class="sm">1360</text>
<text x="1020" y="1994" class="s">P</text><text x="1076" y="1994" class="sm">150</text>
<text x="1042" y="2004" class="sm">135</text><text x="1042" y="2015" class="s">P</text>
<text x="810" y="2013" class="sm">710</text><text x="808" y="2029" class="s">P</text>
<text x="942" y="2012" class="m">3750</text>
<text x="775" y="2048" class="sm">480</text>
<text x="921" y="2048" class="m">4460</text>
<text x="1098" y="2048" class="m">1510</text>
<text x="952" y="2079" class="l">6450</text>
</g>

<text x="617" y="2195" class="ttl" textLength="719" lengthAdjust="spacingAndGlyphs" style="font-size:64px">FIRST FLOOR PLAN 1:100</text>

<g fill="none" stroke="#000" stroke-width="2.5">
<path d="M145 2073H484V2422 M145 2204H484 M145 2242H484 M145 2331H484"/>
</g>
<path d="M150 2134L177 2082L204 2134H191L177 2108L163 2134Z" fill="#000"/>
<text x="151" y="2158" textLength="149" lengthAdjust="spacingAndGlyphs" style="font-size:19px">ARRIS PROPERTY</text>
<text x="151" y="2178" textLength="58" lengthAdjust="spacingAndGlyphs" style="font-size:19px">GROUP</text>
<text x="152" y="2194" textLength="150" lengthAdjust="spacingAndGlyphs" style="font-size:11px">P.O Box 3232 Rouse Hill 2155</text>
<circle cx="346" cy="2114" r="30" fill="none" stroke="#000" stroke-width="5"/>
<g fill="none" stroke="#000" stroke-width="3">
<path d="M346 2092Q336 2108 346 2124Q356 2108 346 2092Z"/>
<path d="M330 2100Q326 2118 344 2126Q340 2108 330 2100Z"/>
<path d="M362 2100Q366 2118 348 2126Q352 2108 362 2100Z"/>
<path d="M332 2128Q346 2134 360 2128"/>
</g>
<text x="381" y="2122" textLength="92" lengthAdjust="spacingAndGlyphs" style="font-family:'Liberation Serif',serif;font-weight:bold;font-size:36px;stroke-width:1px">LILY</text>
<text x="381" y="2135" textLength="66" lengthAdjust="spacingAndGlyphs" class="b" style="font-size:10px;letter-spacing:3px">HOMES</text>
<text x="381" y="2147" textLength="97" lengthAdjust="spacingAndGlyphs" style="font-size:9px">www.lilyhomes.com.au</text>
<text x="148" y="2218" style="font-size:10px">FOR</text>
<text x="177" y="2232" textLength="233" lengthAdjust="spacingAndGlyphs" style="font-size:20px">ARRIS PROPERTY GROUP</text>
<text x="148" y="2260" style="font-size:10px">AT</text>
<text x="177" y="2273" textLength="216" lengthAdjust="spacingAndGlyphs" style="font-size:21px">LOT 181 IN DP 208203</text>
<text x="177" y="2296" textLength="238" lengthAdjust="spacingAndGlyphs" style="font-size:21px">AT 22 WORCESTER ROAD</text>
<text x="177" y="2318" textLength="108" lengthAdjust="spacingAndGlyphs" style="font-size:21px">ROUSE HILL</text>
<g style="font-size:12px">
<text x="147" y="2347" textLength="318" lengthAdjust="spacingAndGlyphs">a&amp;n design group all rights reserved. This work is copyright</text>
<text x="147" y="2361" textLength="294" lengthAdjust="spacingAndGlyphs">and cannot be reproduced or copied in any form or by</text>
<text x="147" y="2375" textLength="319" lengthAdjust="spacingAndGlyphs">any means without written permission a&amp;n design group. Any</text>
<text x="147" y="2389" textLength="313" lengthAdjust="spacingAndGlyphs">license to use this document, whether expressed or implied</text>
<text x="147" y="2403" textLength="290" lengthAdjust="spacingAndGlyphs">is restricted to the terms of the agreement or implied</text>
<text x="147" y="2417" textLength="336" lengthAdjust="spacingAndGlyphs">agreement between a&amp;n design group and the instructing party</text>
</g>

<g fill="none" stroke="#000" stroke-width="2.5">
<path d="M1797 2073H1456V2422 M1456 2204H1797 M1456 2339H1797 M1456 2381H1797 M1594 2339V2422 M1662 2339V2422"/>
</g>
<text x="1506" y="2180" textLength="234" lengthAdjust="spacingAndGlyphs" style="font-size:120px;font-weight:bold;fill:#808080;stroke:#808080;stroke-width:4px;letter-spacing:-8px">a&amp;n</text>
<text x="1629" y="2195" class="c" textLength="116" lengthAdjust="spacingAndGlyphs" style="font-size:11px">www.andesigns.com.au</text>
<g style="font-size:11px">
<text x="1462" y="2318">A</text><text x="1521" y="2318">CC PLans</text><text x="1690" y="2318">DB</text><text x="1743" y="2318">10/4/24</text>
</g>
<g style="font-size:14px">
<text x="1462" y="2337" textLength="26" lengthAdjust="spacingAndGlyphs">REV</text>
<text x="1521" y="2337" textLength="76" lengthAdjust="spacingAndGlyphs">DESCRIPTION</text>
<text x="1690" y="2337" textLength="28" lengthAdjust="spacingAndGlyphs">DWN</text>
<text x="1743" y="2337" textLength="34" lengthAdjust="spacingAndGlyphs">DATE</text>
</g>
<g style="font-size:11px">
<text x="1458" y="2349">HOUSE LOT:</text><text x="1596" y="2349">FACADE:</text><text x="1664" y="2349">SHEET:</text>
<text x="1458" y="2391">DRAWING Nº:</text><text x="1596" y="2391">REVISION:</text><text x="1664" y="2391">DATE:</text>
</g>
<g style="font-size:22px">
<text x="1470" y="2375">LOT 109</text>
<text x="1627" y="2376" class="c">A</text>
<text x="1727" y="2375" class="c">3 of 10</text>
<text x="1470" y="2414">AND-29918</text>
<text x="1627" y="2416" class="c">A</text>
<text x="1730" y="2414" class="c">APR 2024</text>
</g>
</svg>
</body></html>
